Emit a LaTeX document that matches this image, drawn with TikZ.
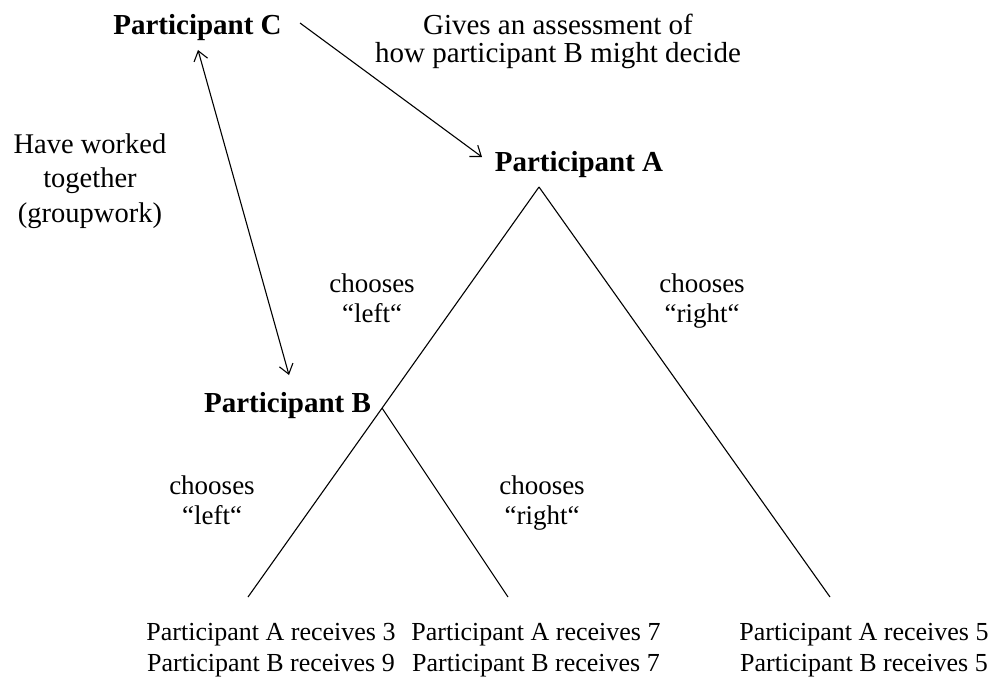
\documentclass[tikz,border=0pt]{standalone}
\usepackage{fontspec}
\setmainfont{Liberation Serif}
\usetikzlibrary{arrows.meta}
\begin{document}
\begin{tikzpicture}[x=1pt,y=-1pt,
  txt/.style={inner sep=0pt, anchor=base, align=center},
  big/.style={txt, font=\fontsize{29}{28.5}\selectfont},
  side/.style={txt, font=\fontsize{28.5}{34.5}\selectfont},
  who/.style={txt, font=\fontsize{29}{34}\selectfont\bfseries},
  choice/.style={txt, font=\fontsize{27}{30}\selectfont},
  pay/.style={txt, font=\fontsize{26}{31}\selectfont},
  branch/.style={line width=1.1pt},
  barb/.tip={Straight Barb[length=9.5pt,width=14pt,line width=1.1pt]},
  arr/.style={line width=1.1pt, -barb},
  darr/.style={line width=1.1pt, barb-barb}]
\useasboundingbox (0,0) rectangle (991,677);

% players (base = baseline)
\node[who] (pC) at (197.5,35) {Participant C};
\node[who] (pA) at (579,171) {Participant A};
\node[who] (pB) at (287.5,412) {Participant B};

% descriptions (base = baseline of last line)
\node[big] (gives) at (558,63) {Gives an assessment of\\how participant B might decide};
\node[side] (worked) at (90,222) {Have worked\\together\\(groupwork)};

% arrow ends
\coordinate (cOut) at (300,23);
\coordinate (aIn) at (482,157);
\coordinate (cIn) at (198,50);
\coordinate (bIn) at (289,375);
\draw[arr] (cOut) -- (aIn);
\draw[darr] (cIn) -- (bIn);

% tree
\coordinate (apex) at (539,187);
\coordinate (bnode) at (382,408);
\coordinate (leafL) at (248,597);
\coordinate (leafM) at (508,597);
\coordinate (leafR) at (830,597);
\draw[branch] (apex) -- (leafL);
\draw[branch] (apex) -- (leafR);
\draw[branch] (bnode) -- (leafM);

% choice labels
\node[choice] (aLeft) at (372,322) {chooses\\“left“};
\node[choice] (aRight) at (702,322) {chooses\\“right“};
\node[choice] (bLeft) at (212,524) {chooses\\“left“};
\node[choice] (bRight) at (542,524) {chooses\\“right“};

% payoffs
\node[pay] (payL) at (271,671) {Participant A receives 3\\Participant B receives 9};
\node[pay] (payM) at (536,671) {Participant A receives 7\\Participant B receives 7};
\node[pay] (payR) at (864,671) {Participant A receives 5\\Participant B receives 5};
\end{tikzpicture}
\end{document}
